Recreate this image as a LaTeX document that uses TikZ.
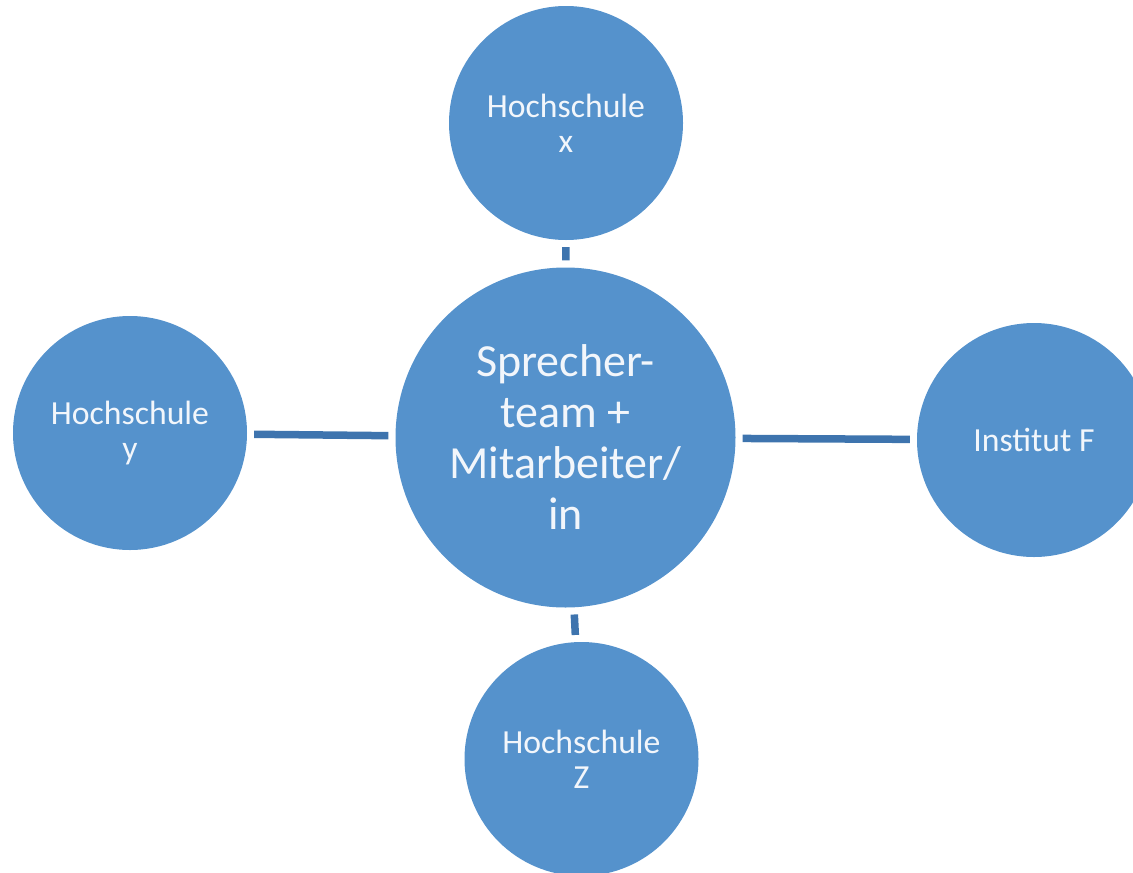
\documentclass[tikz,border=0pt]{standalone}
\usepackage{fontspec}
\setmainfont{Carlito}
\definecolor{circfill}{RGB}{85,146,204}
\definecolor{linkcol}{RGB}{62,116,174}
\definecolor{txtcol}{RGB}{242,246,251}
\begin{document}
\begin{tikzpicture}[x=1pt,y=-1pt,
  bubble/.style={circle,fill=circfill,draw=none,inner sep=0pt,align=center,text=txtcol},
  small/.style={bubble,minimum size=234pt,font=\fontsize{33.7}{35}\selectfont},
  big/.style={bubble,minimum size=340pt,font=\fontsize{46}{51}\selectfont},
  link/.style={draw=linkcol,line width=7.5pt,shorten <=7pt,shorten >=7pt}]
\useasboundingbox (0,0) rectangle (1133,873);
\node[big]   (C) at (565.5,437.5) {Sprecher-\\team +\\Mitarbeiter/\\in};
\node[small] (T) at (566,123) {Hochschule\\x};
\node[small] (L) at (130,433) {Hochschule\\y};
\node[small] (R) at (1034,440) {Institut F};
\node[small] (B) at (581.5,759) {Hochschule\\Z};
\draw[link] (T) -- (C);
\draw[link] (L) -- (C);
\draw[link] (C) -- (R);
\draw[link] (C) -- (B);
\end{tikzpicture}
\end{document}
